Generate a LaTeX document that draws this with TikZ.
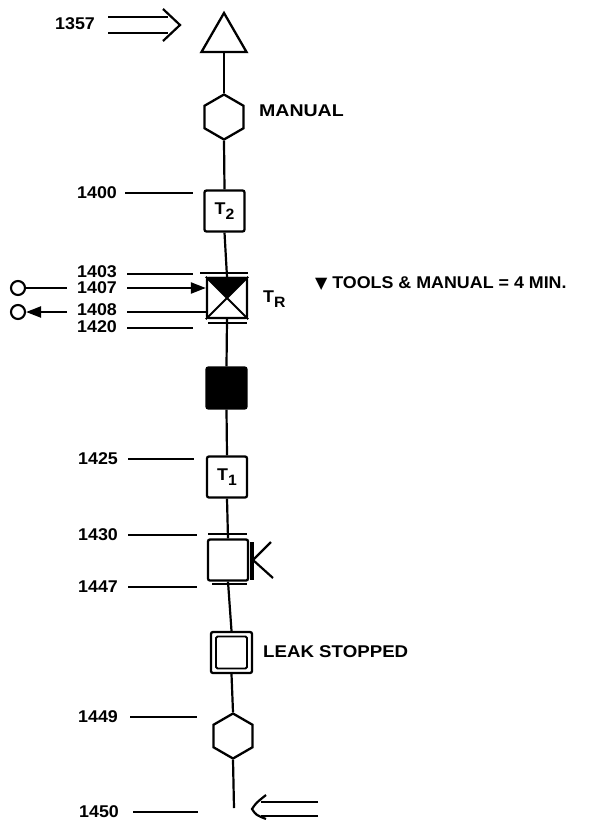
\documentclass[tikz,border=0pt]{standalone}
\usepackage{fontspec}
\setmainfont{Liberation Sans}[FakeStretch=1.05]
\newfontfamily\manfont{Liberation Sans}[FakeStretch=1.15]
\newfontfamily\leakfont{Liberation Sans}[FakeStretch=1.1]
\newfontfamily\dvfont{DejaVu Sans}
\usetikzlibrary{shapes.geometric,arrows.meta}
\tikzset{
  ln/.style={line width=2.2pt},
  lab/.style={font=\fontsize{17}{19}\selectfont\bfseries, inner sep=0pt},
  stepbox/.style={draw, line width=2.3pt, rounded corners=2pt, minimum width=40pt, minimum height=41pt, inner sep=0pt, font=\fontsize{17}{19}\selectfont\bfseries},
  hexa/.style={draw, line width=2.3pt, regular polygon, regular polygon sides=6, shape border rotate=30, minimum size=45pt, inner sep=0pt},
  tri/.style={draw, line width=2.3pt, regular polygon, regular polygon sides=3, minimum size=52pt, inner sep=0pt},
  arr/.style={-{Triangle[length=15pt,width=11pt]}},
}
\newcommand{\Tsub}[1]{T\raisebox{-5pt}{\fontsize{15}{17}\selectfont #1}}
\begin{document}
\begin{tikzpicture}[x=1pt,y=-1pt, ln]
\useasboundingbox (0,0) rectangle (599,820);

% main chain nodes
\node[tri] (tri) at (224,39) {};
\node[hexa] (hexA) at (224,117) {};
\node[stepbox] (t2) at (224.5,211) {\Tsub{2}};
\node[stepbox, minimum height=40pt] (tr) at (227,298) {};
\node[stepbox, fill=black] (blk) at (226.5,388) {};
\node[stepbox] (t1) at (227,477) {\Tsub{1}};
\node[stepbox] (kb) at (228,560) {};
\node[stepbox, minimum width=41pt] (leak) at (231.5,652.5) {};
\node[draw, line width=1.9pt, rounded corners=1.5pt, minimum width=31pt, minimum height=32pt, inner sep=0pt] (leakin) at (231.5,652.5) {};
\node[hexa] (hexB) at (233,736) {};
\coordinate (bend) at (234,808);

% bars
\coordinate (trTopL) at (200,273); \coordinate (trTopR) at (248,273);
\coordinate (trBotL) at (208,323); \coordinate (trBotR) at (247,323);
\coordinate (kbTopL) at (208,534); \coordinate (kbTopR) at (247,534);
\coordinate (kbBotL) at (212,584); \coordinate (kbBotR) at (247,584);
\draw (trTopL) -- (trTopR);
\draw (trBotL) -- (trBotR);
\draw (kbTopL) -- (kbTopR);
\draw (kbBotL) -- (kbBotR);

% connectors
\draw (tri.south) -- (hexA.north);
\draw (hexA.south) -- (t2.north);
\draw (t2.south) -- (tr.north);
\draw (tr.south) -- (blk.north);
\draw (blk.south) -- (t1.north);
\draw (t1.south) -- (kb.north);
\draw (kb.south) -- (leak.north);
\draw (leak.south) -- (hexB.north);
\draw (hexB.south) -- (bend);

% TR box interior
\fill (tr.north west) -- (tr.north east) -- (tr.center) -- cycle;
\draw[line width=2.1pt] (tr.north west) -- (tr.south east);
\draw[line width=2.1pt] (tr.north east) -- (tr.south west);

% K mark
\coordinate (kv1) at (252,542); \coordinate (kv2) at (252,580);
\coordinate (kc) at (253,560); \coordinate (ku) at (271,542); \coordinate (kd) at (273,578);
\draw[line width=3.4pt] (kv1) -- (kv2);
\draw (ku) -- (kc) -- (kd);

% right-side texts
\node[lab, anchor=west, font=\manfont\fontsize{17}{19}\selectfont\bfseries] (manual) at (258,111) {MANUAL};
\node[lab, anchor=west] (trlab) at (262,299) {\Tsub{R}};
\node[lab, anchor=west] (tools) at (314,284) {{\dvfont\fontsize{16}{17}\selectfont ▼} TOOLS \& MANUAL = 4 MIN.};
\node[lab, anchor=west, font=\leakfont\fontsize{17}{19}\selectfont\bfseries] (leaklab) at (262,652) {LEAK STOPPED};

% left time labels
\node[lab, anchor=east] (l1357) at (96,24) {1357};
\node[lab, anchor=east] (l1400) at (118,193) {1400};
\node[lab, anchor=east] (l1403) at (118,272) {1403};
\node[lab, anchor=east] (l1407) at (118,288) {1407};
\node[lab, anchor=east] (l1408) at (118,310) {1408};
\node[lab, anchor=east] (l1420) at (118,327) {1420};
\node[lab, anchor=east] (l1425) at (119,459) {1425};
\node[lab, anchor=east] (l1430) at (119,535) {1430};
\node[lab, anchor=east] (l1447) at (119,587) {1447};
\node[lab, anchor=east] (l1449) at (119,717) {1449};
\node[lab, anchor=east] (l1450) at (120,812) {1450};

\coordinate (s1403) at (127,274); \coordinate (e1403) at (193,274);
\coordinate (s1420) at (127,328); \coordinate (e1420) at (193,328);
\coordinate (e1400) at (193,193);
\coordinate (e1425) at (194,459);
\coordinate (e1430) at (197,535);
\coordinate (e1447) at (197,587);
\coordinate (e1449) at (197,717);
\coordinate (e1450) at (198,812);
\draw ([xshift=7pt]l1400.east) -- (e1400);
\draw (s1403) -- (e1403);
\draw (s1420) -- (e1420);
\draw ([xshift=9pt]l1425.east) -- (e1425);
\draw ([xshift=9pt]l1430.east) -- (e1430);
\draw ([xshift=9pt]l1447.east) -- (e1447);
\draw ([xshift=11pt]l1449.east) -- (e1449);
\draw ([xshift=13pt]l1450.east) -- (e1450);

% circles and the 1407 / 1408 lines
\node[draw, circle, line width=2.1pt, minimum size=14pt, inner sep=0pt] (c1) at (18,288) {};
\node[draw, circle, line width=2.1pt, minimum size=14pt, inner sep=0pt] (c2) at (18,312) {};
\coordinate (a1407) at (127,288);
\coordinate (a1408) at (127,312);
\coordinate (m1407) at (67,288);
\coordinate (m1408) at (67,312);
\draw (c1.east) -- (m1407);
\draw[arr] (a1407) -- (tr.west |- a1407);
\draw (tr.west |- a1408) -- (a1408);
\draw[arr] (m1408) -- (c2.east);

% entry double arrow (top)
\coordinate (ta1) at (108,17); \coordinate (ta2) at (108,33);
\coordinate (tb1) at (168,17); \coordinate (tb2) at (168,33);
\coordinate (th1) at (163,9); \coordinate (tt) at (180,25); \coordinate (th2) at (163,41);
\draw (ta1) -- (tb1);
\draw (ta2) -- (tb2);
\draw (th1) -- (tt) -- (th2);

% exit double arrow (bottom)
\coordinate (ba1) at (318,802); \coordinate (ba2) at (318,816);
\coordinate (bb1) at (261,802); \coordinate (bb2) at (261,816);
\coordinate (bh1) at (266,795); \coordinate (bt) at (252,809); \coordinate (bh2) at (266,819);
\draw (ba1) -- (bb1);
\draw (ba2) -- (bb2);
\draw (bh1) .. controls (256,803) .. (bt) .. controls (256,815) .. (bh2);
\end{tikzpicture}
\end{document}
